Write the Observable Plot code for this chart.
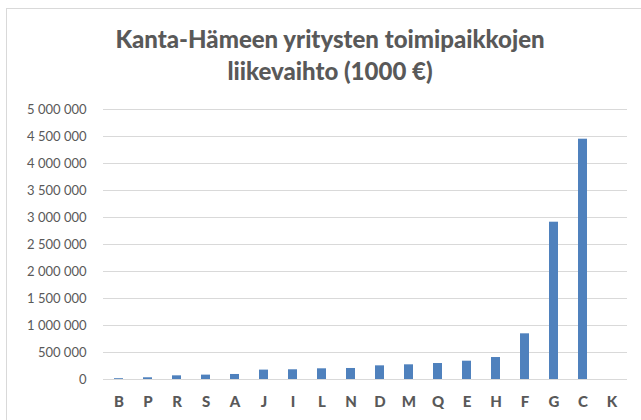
<!DOCTYPE html>
<html>
<head>
<meta charset="utf-8">
<script src="https://cdn.jsdelivr.net/npm/d3@7"></script>
<script src="https://cdn.jsdelivr.net/npm/@observablehq/plot@0.6"></script>
<style>
  html, body { margin: 0; padding: 0; background: #fff; }
  #wrap { position: relative; width: 641px; height: 420px; overflow: hidden; }
  #frame { position: absolute; left: 6px; top: 8px; width: 640px; height: 420px; border: 1px solid #d9d9d9; box-sizing: border-box; }
  #title { position: absolute; left: 0; top: 23px; width: 660px; text-align: center;
    font-family: Lato, "Open Sans", sans-serif; font-weight: 900; font-size: 24px; line-height: 32px; color: #595959; }
  #chart { position: absolute; left: 0; top: 95px; }
</style>
</head>
<body>
<div id="wrap">
  <div id="frame"></div>
  <div id="title">Kanta-Hämeen yritysten toimipaikkojen<br>liikevaihto (1000 €)</div>
  <div id="chart"></div>
</div>
<script>
const categories = ["B","P","R","S","A","J","I","L","N","D","M","Q","E","H","F","G","C","K"];
const values = [15000, 32000, 68000, 81000, 93000, 174000, 180000, 198000, 204000, 253000, 272000, 296000, 339000, 407000, 846000, 2913000, 4450000, 0];
const yTicks = [0, 500000, 1000000, 1500000, 2000000, 2500000, 3000000, 3500000, 4000000, 4500000, 5000000];

const data = categories.map((c, i) => ({cat: c, value: values[i]}));
const fmt = d => d3.format(",")(d).replace(/,/g, " ");

const chart = Plot.plot({
  width: 641,
  height: 325,
  marginTop: 14,
  marginBottom: 41,
  marginLeft: 103,
  marginRight: 14,
  style: {fontFamily: "Lato, 'Open Sans', sans-serif", color: "#595959", background: "transparent"},
  x: {domain: categories, paddingInner: 0.68, paddingOuter: 0.34, label: null},
  y: {domain: [0, 5000000], label: null},
  marks: [
    Plot.ruleY(yTicks, {stroke: "#d9d9d9", strokeWidth: 1, strokeOpacity: 1}),
    Plot.barY(data, {x: "cat", y: "value", fill: "#4f81bd"}),
    Plot.axisY(yTicks, {tickSize: 0, tickPadding: 17, tickFormat: fmt, fontSize: 13, fill: "#595959"}),
    Plot.axisX({tickSize: 0, tickPadding: 17, fontSize: 15, fontWeight: 900, fill: "#595959"})
  ]
});
document.getElementById("chart").appendChild(chart);
</script>
</body>
</html>
